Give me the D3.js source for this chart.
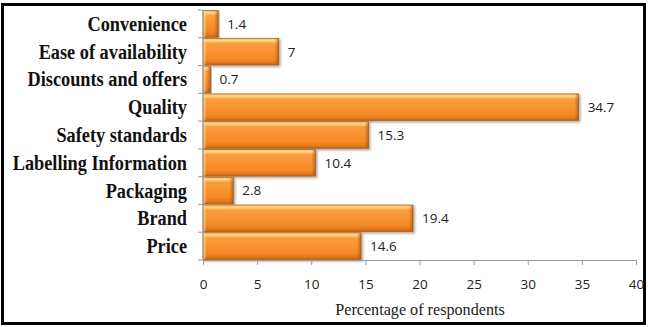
<!DOCTYPE html>
<html>
<head>
<meta charset="utf-8">
<script src="https://cdn.jsdelivr.net/npm/d3@7/dist/d3.min.js"></script>
<style>
  html, body { margin: 0; padding: 0; background: #fff; }
  svg { display: block; }
</style>
</head>
<body>
<svg id="chart" width="648" height="327"></svg>
<script>
// Factors influencing purchase, share of respondents (%)
const categories = ["Convenience", "Ease of availability", "Discounts and offers", "Quality",
  "Safety standards", "Labelling Information", "Packaging", "Brand", "Price"];
const values = [1.4, 7, 0.7, 34.7, 15.3, 10.4, 2.8, 19.4, 14.6];
const xTicks = [0, 5, 10, 15, 20, 25, 30, 35, 40];
const xTitle = "Percentage of respondents";

const svg = d3.select("#chart");
const W = 648, H = 327;
const margin = { left: 203, right: 12, top: 10, bottom: 67 };
const sansFont = "'Open Sans', 'Liberation Sans', sans-serif";
const serifFont = "'Liberation Serif', 'Times New Roman', serif";

// outer frame
svg.append("rect")
  .attr("x", 2.5).attr("y", 4.5).attr("width", W - 6).attr("height", H - 8)
  .attr("fill", "#fff").attr("stroke", "#000").attr("stroke-width", 3);

const x = d3.scaleLinear().domain([0, 40]).range([margin.left, 636]);
const y = d3.scaleBand().domain(categories).range([margin.top, 260]).paddingInner(0.04).paddingOuter(0.02);

// bevelled orange fill
const defs = svg.append("defs");
const grad = defs.append("linearGradient").attr("id", "barFill")
  .attr("x1", 0).attr("y1", 0).attr("x2", 0).attr("y2", 1);
grad.append("stop").attr("offset", "0%").attr("stop-color", "#fbb867");
grad.append("stop").attr("offset", "8%").attr("stop-color", "#ffd88a");
grad.append("stop").attr("offset", "20%").attr("stop-color", "#fa9c3c");
grad.append("stop").attr("offset", "75%").attr("stop-color", "#f68a26");
grad.append("stop").attr("offset", "90%").attr("stop-color", "#e47a1c");
grad.append("stop").attr("offset", "100%").attr("stop-color", "#b8631c");

const edgeR = defs.append("linearGradient").attr("id", "edgeRight")
  .attr("x1", 0).attr("y1", 0).attr("x2", 1).attr("y2", 0);
edgeR.append("stop").attr("offset", "0%").attr("stop-color", "#9a4f10").attr("stop-opacity", 0);
edgeR.append("stop").attr("offset", "100%").attr("stop-color", "#9a4f10").attr("stop-opacity", 0.65);

const edgeL = defs.append("linearGradient").attr("id", "edgeLeft")
  .attr("x1", 0).attr("y1", 0).attr("x2", 1).attr("y2", 0);
edgeL.append("stop").attr("offset", "0%").attr("stop-color", "#ffe0a0").attr("stop-opacity", 0.8);
edgeL.append("stop").attr("offset", "100%").attr("stop-color", "#ffe0a0").attr("stop-opacity", 0);

const shadow = defs.append("filter").attr("id", "barShadow")
  .attr("x", "-5%").attr("y", "-20%").attr("width", "115%").attr("height", "150%");
shadow.append("feDropShadow").attr("dx", 1.5).attr("dy", 1.5).attr("stdDeviation", 1)
  .attr("flood-color", "#000").attr("flood-opacity", 0.35);

// bars
const barG = svg.append("g").selectAll("g").data(categories).join("g");
barG.append("rect")
  .attr("x", x(0))
  .attr("y", d => y(d))
  .attr("width", (d, i) => x(values[i]) - x(0))
  .attr("height", y.bandwidth())
  .attr("fill", "url(#barFill)")
  .attr("stroke", "#b5661f").attr("stroke-width", 0.8)
  .attr("filter", "url(#barShadow)");
// bevel edges
barG.append("rect")
  .attr("x", (d, i) => Math.max(x(0), x(values[i]) - 4))
  .attr("y", d => y(d) + 0.5)
  .attr("width", (d, i) => Math.min(4, x(values[i]) - x(0)))
  .attr("height", y.bandwidth() - 1)
  .attr("fill", "url(#edgeRight)");
barG.append("rect")
  .attr("x", x(0) + 0.5)
  .attr("y", d => y(d) + 0.5)
  .attr("width", (d, i) => Math.min(3, (x(values[i]) - x(0)) / 2))
  .attr("height", y.bandwidth() - 1)
  .attr("fill", "url(#edgeLeft)");

// value labels
svg.append("g").selectAll("text").data(categories).join("text")
  .attr("x", (d, i) => x(values[i]) + 9)
  .attr("y", d => y(d) + y.bandwidth() / 2)
  .attr("dy", "0.36em")
  .attr("font-family", sansFont)
  .attr("font-size", 13.5)
  .attr("fill", "#222")
  .text((d, i) => values[i]);

// x axis
const xAxis = svg.append("g").attr("transform", "translate(0,260)")
  .call(d3.axisBottom(x).tickValues(xTicks).tickSize(5).tickPadding(14).tickFormat(d3.format("d")));
xAxis.select(".domain").attr("stroke", "#999");
xAxis.selectAll(".tick line").attr("stroke", "#999");
xAxis.selectAll("text")
  .attr("font-family", sansFont)
  .attr("font-size", 13.5).attr("fill", "#222");

// y axis (ticks at band boundaries)
const yAxisG = svg.append("g");
const bounds = d3.range(categories.length + 1).map(i => margin.top + i * (250 / categories.length));
yAxisG.append("line").attr("x1", x(0)).attr("x2", x(0)).attr("y1", margin.top).attr("y2", 260)
  .attr("stroke", "#999");
yAxisG.selectAll("line.t").data(bounds).join("line").attr("class", "t")
  .attr("x1", x(0) - 5).attr("x2", x(0)).attr("y1", d => d).attr("y2", d => d)
  .attr("stroke", "#999");

// category labels (slightly condensed bold serif)
svg.append("g").selectAll("text").data(categories).join("text")
  .attr("transform", d => `translate(187,${y(d) + y.bandwidth() / 2}) scale(0.915,1)`)
  .attr("dy", "0.35em")
  .attr("text-anchor", "end")
  .attr("font-family", serifFont)
  .attr("font-weight", "bold")
  .attr("font-size", 20)
  .attr("fill", "#111")
  .text(d => d);

// axis title
svg.append("text")
  .attr("transform", "translate(420,315) scale(0.95,1)")
  .attr("text-anchor", "middle")
  .attr("font-family", serifFont)
  .attr("font-size", 17)
  .attr("fill", "#222")
  .text(xTitle);
</script>
</body>
</html>
